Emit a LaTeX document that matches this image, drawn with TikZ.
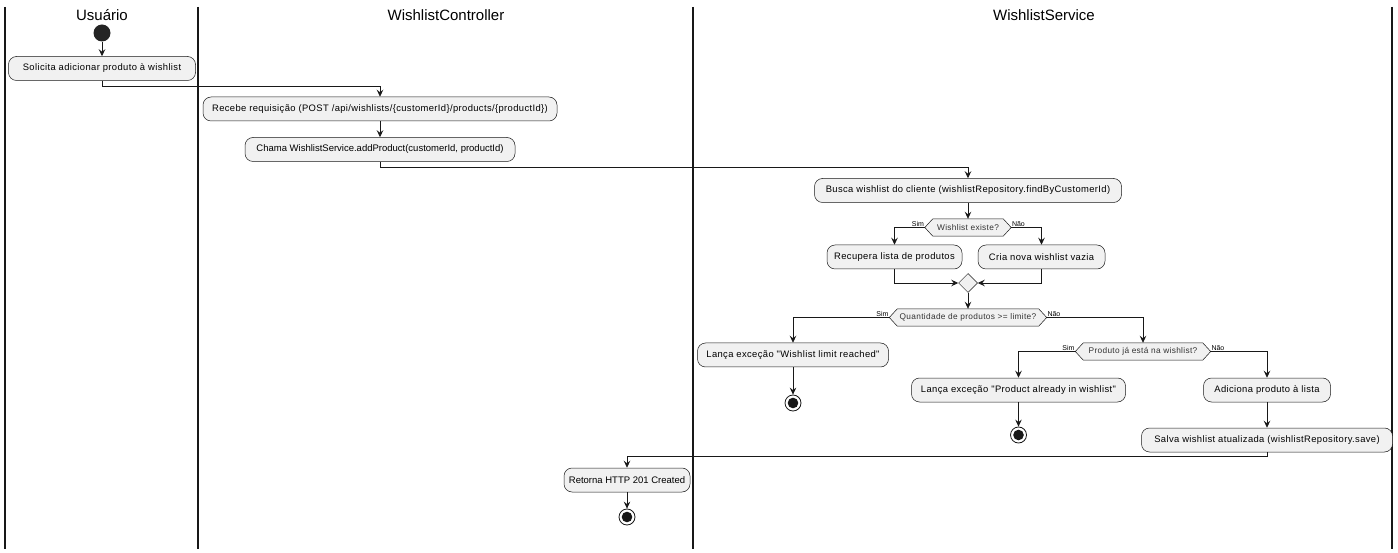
\documentclass[tikz,border=0pt]{standalone}
\usepackage{fontspec}
\setmainfont{Liberation Sans}
\newfontfamily\actfont[LetterSpace=4]{Liberation Sans}
\usetikzlibrary{shapes.geometric,arrows.meta,backgrounds}
\definecolor{actfill}{HTML}{F1F1F1}
\definecolor{ink}{HTML}{181818}
\begin{document}
\begin{tikzpicture}[x=1pt,y=-1pt,
  act/.style={draw=ink, fill=actfill, rounded corners=8pt, minimum height=24pt, inner sep=0pt, line width=0.5pt, font=\actfont\fontsize{9.4}{11}\selectfont},
  plaintext/.style={font=\fontsize{9.5}{11}\selectfont},
  cond/.style={minimum height=17pt, inner sep=0pt, font=\actfont\fontsize{8.3}{10}\selectfont, text=black!80},
  hex/.style={draw=ink, fill=actfill, line width=0.5pt},
  lbl/.style={font=\fontsize{7}{8}\selectfont, inner sep=0.6pt},
  arr/.style={draw=ink, line width=0.8pt, -{Stealth[length=7pt,width=6.5pt,inset=2.5pt]}},
  lane/.style={draw=ink, line width=1.2pt},
  lanetitle/.style={font=\fontsize{15}{18}\selectfont},
  startc/.style={circle, fill=ink!95, minimum size=17pt, inner sep=0pt},
  endc/.style={circle, draw=ink, line width=0.8pt, fill=white, minimum size=16pt, inner sep=0pt,
    path picture={\fill[ink] (path picture bounding box.center) circle (5.3pt);}},
  merge/.style={diamond, draw=ink, fill=actfill, line width=0.5pt, minimum size=19pt, inner sep=0pt}]

\useasboundingbox (0,0) rectangle (1398,553);

% swimlanes
\draw[lane] (5,7) -- (5,549);
\draw[lane] (198,7) -- (198,549);
\draw[lane] (693,7) -- (693,549);
\draw[lane] (1392,7) -- (1392,549);
\node[lanetitle] (t1) at (102,15) {Usuário};
\node[lanetitle] (t2) at (446,15) {WishlistController};
\node[lanetitle] (t3) at (1044,15) {WishlistService};

% nodes
\node[startc] (start) at (102,33) {};
\node[act, minimum width=187pt] (s1) at (102,68.5) {Solicita adicionar produto à wishlist};
\node[act, minimum width=354pt] (c1) at (380,109) {Recebe requisição (POST /api/wishlists/\{customerId\}/products/\{productId\})};
\node[act, plaintext, minimum width=270pt] (c2) at (380,149.5) {Chama WishlistService.addProduct(customerId, productId)};
\node[act, minimum width=307pt] (w1) at (968,190.5) {Busca wishlist do cliente (wishlistRepository.findByCustomerId)};
\node[cond, minimum width=86pt] (d1) at (968,227.5) {Wishlist existe?};
\node[act, minimum width=135pt] (w2) at (894.5,257) {Recupera lista de produtos};
\node[act, minimum width=127pt] (w3) at (1041.5,257) {Cria nova wishlist vazia};
\node[merge] (m1) at (968,283) {};
\node[cond, minimum width=157pt] (d2) at (968,317.5) {Quantidade de produtos >= limite?};
\node[act, minimum width=191pt] (w4) at (793,355) {Lança exceção "Wishlist limit reached"};
\node[endc] (e1) at (793,403) {};
\node[cond, minimum width=135pt] (d3) at (1143,351.5) {Produto já está na wishlist?};
\node[act, minimum width=214pt] (w5) at (1018.5,390) {Lança exceção "Product already in wishlist"};
\node[endc] (e2) at (1018.5,435) {};
\node[act, minimum width=127pt] (w6) at (1267,390) {Adiciona produto à lista};
\node[act, minimum width=251pt] (w7) at (1267,440) {Salva wishlist atualizada (wishlistRepository.save)};
\node[act, plaintext, minimum width=126pt] (c3) at (627,480) {Retorna HTTP 201 Created};
\node[endc] (e3) at (627,517) {};

% hexagons behind the condition texts
\begin{scope}[on background layer]
\foreach \n in {d1,d2,d3}
  \draw[hex] (\n.west) -- ([xshift=8pt]\n.north west) -- ([xshift=-8pt]\n.north east) -- (\n.east)
    -- ([xshift=-8pt]\n.south east) -- ([xshift=8pt]\n.south west) -- cycle;
\end{scope}

% branch labels
\node[lbl, anchor=south east] (l1) at (d1.west) {Sim};
\node[lbl, anchor=south west] (l2) at (d1.east) {Não};
\node[lbl, anchor=south east] (l3) at (d2.west) {Sim};
\node[lbl, anchor=south west] (l4) at (d2.east) {Não};
\node[lbl, anchor=south east] (l5) at (d3.west) {Sim};
\node[lbl, anchor=south west] (l6) at (d3.east) {Não};

% connectors
\draw[arr] (start) -- (s1);
\draw[arr] (s1.south) -- ++(0,6) -| (c1.north);
\draw[arr] (c1) -- (c2);
\draw[arr] (c2.south) -- ++(0,6) -| (w1.north);
\draw[arr] (w1) -- (d1);
\draw[arr] (d1.west) -| (w2.north);
\draw[arr] (d1.east) -| (w3.north);
\draw[arr] (w2.south) |- (m1.west);
\draw[arr] (w3.south) |- (m1.east);
\draw[arr] (m1) -- (d2);
\draw[arr] (d2.west) -| (w4.north);
\draw[arr] (d2.east) -| (d3.north);
\draw[arr] (w4) -- (e1);
\draw[arr] (d3.west) -| (w5.north);
\draw[arr] (d3.east) -| (w6.north);
\draw[arr] (w5) -- (e2);
\draw[arr] (w6) -- (w7);
\draw[arr] (w7.south) -- ++(0,4) -| (c3.north);
\draw[arr] (c3) -- (e3);
\end{tikzpicture}
\end{document}
